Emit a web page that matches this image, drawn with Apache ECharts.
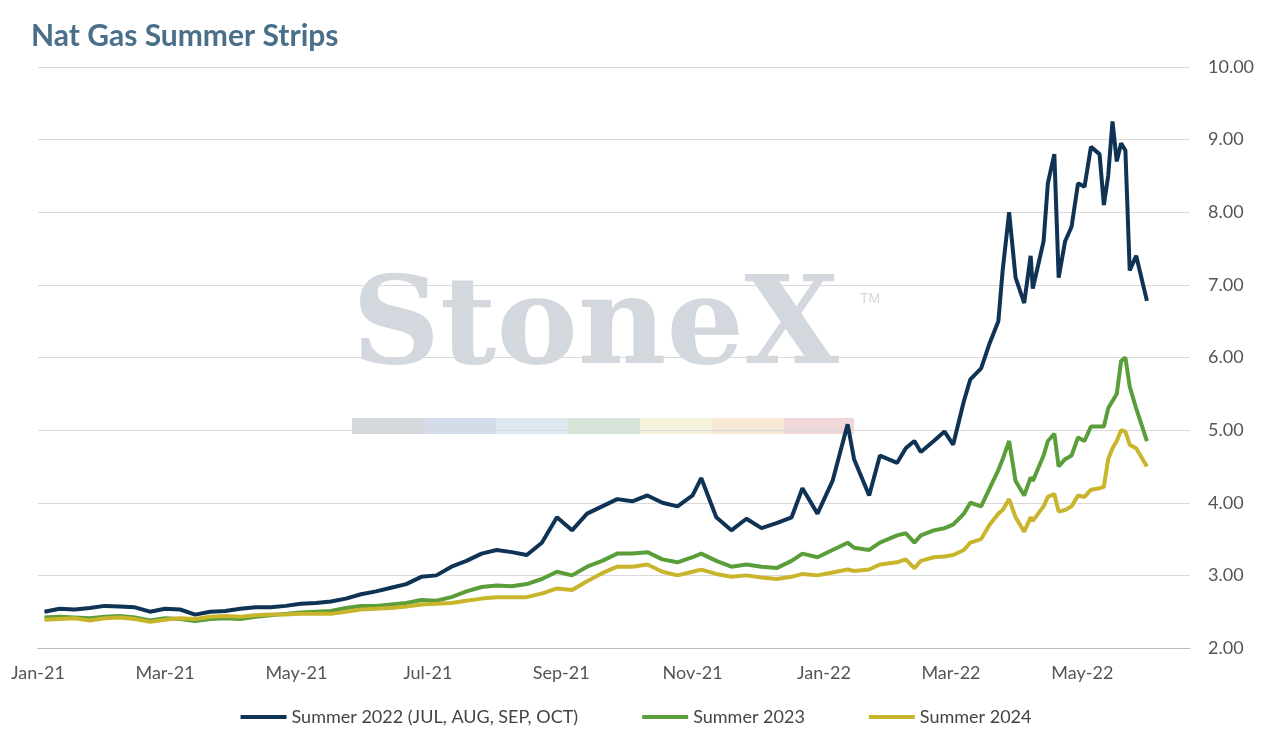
<!DOCTYPE html>
<html>
<head>
<meta charset="utf-8">
<script src="https://cdn.jsdelivr.net/npm/echarts@6/dist/echarts.min.js"></script>
<style>html,body{margin:0;padding:0;background:#fff}#main{width:1272px;height:739px}</style>
</head>
<body>
<div id="main"></div>
<script>
// date, Summer 2022, Summer 2023, Summer 2024
var rows = [
  ['2021-01-04', 2.50, 2.42, 2.39],
  ['2021-01-11', 2.54, 2.43, 2.40],
  ['2021-01-18', 2.53, 2.42, 2.41],
  ['2021-01-25', 2.55, 2.41, 2.38],
  ['2021-02-01', 2.58, 2.43, 2.41],
  ['2021-02-08', 2.57, 2.44, 2.42],
  ['2021-02-15', 2.56, 2.42, 2.40],
  ['2021-02-22', 2.50, 2.38, 2.36],
  ['2021-03-01', 2.54, 2.41, 2.39],
  ['2021-03-08', 2.53, 2.40, 2.41],
  ['2021-03-15', 2.46, 2.37, 2.40],
  ['2021-03-22', 2.50, 2.40, 2.43],
  ['2021-03-29', 2.51, 2.41, 2.44],
  ['2021-04-05', 2.54, 2.40, 2.43],
  ['2021-04-12', 2.56, 2.43, 2.45],
  ['2021-04-19', 2.56, 2.45, 2.46],
  ['2021-04-26', 2.58, 2.47, 2.46],
  ['2021-05-03', 2.61, 2.49, 2.47],
  ['2021-05-10', 2.62, 2.50, 2.47],
  ['2021-05-17', 2.64, 2.51, 2.47],
  ['2021-05-24', 2.68, 2.55, 2.50],
  ['2021-05-31', 2.74, 2.58, 2.53],
  ['2021-06-07', 2.78, 2.58, 2.54],
  ['2021-06-14', 2.83, 2.60, 2.55],
  ['2021-06-21', 2.88, 2.62, 2.57],
  ['2021-06-28', 2.98, 2.66, 2.60],
  ['2021-07-05', 3.00, 2.65, 2.61],
  ['2021-07-12', 3.12, 2.70, 2.62],
  ['2021-07-19', 3.20, 2.78, 2.65],
  ['2021-07-26', 3.30, 2.84, 2.68],
  ['2021-08-02', 3.35, 2.86, 2.70],
  ['2021-08-09', 3.32, 2.85, 2.70],
  ['2021-08-16', 3.28, 2.88, 2.70],
  ['2021-08-23', 3.45, 2.95, 2.75],
  ['2021-08-30', 3.80, 3.05, 2.82],
  ['2021-09-06', 3.62, 3.00, 2.80],
  ['2021-09-13', 3.85, 3.12, 2.92],
  ['2021-09-20', 3.95, 3.20, 3.03],
  ['2021-09-27', 4.05, 3.30, 3.12],
  ['2021-10-04', 4.02, 3.30, 3.12],
  ['2021-10-11', 4.10, 3.32, 3.15],
  ['2021-10-18', 4.00, 3.22, 3.05],
  ['2021-10-25', 3.95, 3.18, 3.00],
  ['2021-11-01', 4.10, 3.25, 3.05],
  ['2021-11-05', 4.34, 3.30, 3.08],
  ['2021-11-12', 3.80, 3.20, 3.02],
  ['2021-11-19', 3.62, 3.12, 2.98],
  ['2021-11-26', 3.78, 3.15, 3.00],
  ['2021-12-03', 3.65, 3.12, 2.97],
  ['2021-12-10', 3.72, 3.10, 2.95],
  ['2021-12-17', 3.80, 3.20, 2.98],
  ['2021-12-22', 4.20, 3.30, 3.02],
  ['2021-12-29', 3.85, 3.25, 3.00],
  ['2022-01-05', 4.30, 3.35, 3.04],
  ['2022-01-12', 5.08, 3.45, 3.08],
  ['2022-01-15', 4.60, 3.38, 3.06],
  ['2022-01-22', 4.10, 3.35, 3.08],
  ['2022-01-27', 4.65, 3.45, 3.15],
  ['2022-02-04', 4.55, 3.55, 3.18],
  ['2022-02-08', 4.75, 3.58, 3.22],
  ['2022-02-12', 4.85, 3.45, 3.10],
  ['2022-02-15', 4.70, 3.55, 3.20],
  ['2022-02-21', 4.85, 3.62, 3.25],
  ['2022-02-26', 4.98, 3.65, 3.26],
  ['2022-03-02', 4.80, 3.70, 3.28],
  ['2022-03-07', 5.40, 3.85, 3.35],
  ['2022-03-10', 5.70, 4.00, 3.45],
  ['2022-03-15', 5.85, 3.95, 3.50],
  ['2022-03-19', 6.20, 4.20, 3.70],
  ['2022-03-23', 6.50, 4.45, 3.85],
  ['2022-03-25', 7.20, 4.60, 3.90],
  ['2022-03-28', 8.00, 4.85, 4.05],
  ['2022-03-31', 7.10, 4.30, 3.80],
  ['2022-04-04', 6.75, 4.10, 3.60],
  ['2022-04-07', 7.40, 4.35, 3.80],
  ['2022-04-08', 6.95, 4.30, 3.75],
  ['2022-04-13', 7.60, 4.65, 3.95],
  ['2022-04-15', 8.40, 4.85, 4.08],
  ['2022-04-18', 8.80, 4.95, 4.12],
  ['2022-04-20', 7.10, 4.50, 3.88],
  ['2022-04-23', 7.60, 4.60, 3.90],
  ['2022-04-26', 7.80, 4.65, 3.95],
  ['2022-04-29', 8.40, 4.90, 4.10],
  ['2022-05-02', 8.35, 4.85, 4.08],
  ['2022-05-05', 8.90, 5.05, 4.18],
  ['2022-05-09', 8.80, 5.05, 4.20],
  ['2022-05-11', 8.10, 5.05, 4.22],
  ['2022-05-13', 8.50, 5.30, 4.60],
  ['2022-05-15', 9.25, 5.40, 4.75],
  ['2022-05-17', 8.70, 5.50, 4.85],
  ['2022-05-19', 8.95, 5.95, 5.00],
  ['2022-05-21', 8.85, 6.00, 4.98],
  ['2022-05-23', 7.20, 5.60, 4.80],
  ['2022-05-26', 7.40, 5.30, 4.75],
  ['2022-05-31', 6.78, 4.85, 4.50]
]

// build one category per day so labels land on month starts
var days = []
var d = new Date(Date.UTC(2021, 0, 1))
var end = new Date(Date.UTC(2022, 5, 20))
while (d <= end) {
    days.push(d.toISOString().slice(0, 10))
    d.setUTCDate(d.getUTCDate() + 1)
}
var mon = ['Jan','Feb','Mar','Apr','May','Jun','Jul','Aug','Sep','Oct','Nov','Dec']

function col(i) {
    var map = {}
    rows.forEach(r => { map[r[0]] = r[i] })
    return days.map(day => map[day] === undefined ? null : map[day])
}

var myChart = echarts.init(document.getElementById('main'))
var font = 'Lato, "Noto Sans", sans-serif'
var option = {
    animation: false,
    textStyle: { fontFamily: font },
    title: {
        text: 'Nat Gas Summer Strips', left: 26, top: 16,
        textStyle: { color: '#4a6f8a', fontSize: 30, fontWeight: 'bold', fontFamily: font }
    },
    graphic: [
        { type: 'text', left: 352, top: 270, z: 0,
          style: { text: 'StoneX', font: 'bold 122px "DejaVu Serif", serif', fill: '#d3d8de' } },
        { type: 'text', left: 860, top: 292, z: 0,
          style: { text: 'TM', font: '14px sans-serif', fill: '#d3d8de' } },
        { type: 'rect', shape: { x: 352, y: 418, width: 72, height: 16 }, style: { fill: '#d5d9de' } },
        { type: 'rect', shape: { x: 424, y: 418, width: 72, height: 16 }, style: { fill: '#d3dce8' } },
        { type: 'rect', shape: { x: 496, y: 418, width: 72, height: 16 }, style: { fill: '#dfe8f0' } },
        { type: 'rect', shape: { x: 568, y: 418, width: 72, height: 16 }, style: { fill: '#d6e3d6' } },
        { type: 'rect', shape: { x: 640, y: 418, width: 72, height: 16 }, style: { fill: '#f6f2dc' } },
        { type: 'rect', shape: { x: 712, y: 418, width: 72, height: 16 }, style: { fill: '#f6e8d4' } },
        { type: 'rect', shape: { x: 784, y: 418, width: 70, height: 16 }, style: { fill: '#f1d8d8' } }
    ],
    legend: {
        bottom: 8, itemWidth: 46, itemHeight: 4, itemGap: 64, icon: 'rect',
        textStyle: { color: '#444', fontSize: 18, fontFamily: font },
        data: ['Summer 2022 (JUL, AUG, SEP, OCT)', 'Summer 2023', 'Summer 2024']
    },
    grid: { left: 38, right: 82, top: 67, bottom: 91 },
    xAxis: {
        type: 'category', data: days, boundaryGap: false,
        axisLine: { lineStyle: { color: '#bbb' } },
        axisTick: { show: false },
        axisLabel: {
            color: '#555', fontSize: 18, margin: 16,
            interval: (i, v) => v.slice(8) === '01' && (+v.slice(5, 7)) % 2 === 1,
            formatter: v => mon[+v.slice(5, 7) - 1] + '-' + v.slice(2, 4)
        }
    },
    yAxis: {
        type: 'value', position: 'right', min: 2, max: 10, interval: 1,
        axisLabel: { color: '#555', fontSize: 18, margin: 18, formatter: v => v.toFixed(2) },
        splitLine: { lineStyle: { color: '#d9d9d9' } }
    },
    series: [
        { name: 'Summer 2022 (JUL, AUG, SEP, OCT)', type: 'line', data: col(1), connectNulls: true,
          showSymbol: false, lineStyle: { width: 4, color: '#0e3354' }, itemStyle: { color: '#0e3354' } },
        { name: 'Summer 2023', type: 'line', data: col(2), connectNulls: true,
          showSymbol: false, lineStyle: { width: 4, color: '#5a9e3a' }, itemStyle: { color: '#5a9e3a' } },
        { name: 'Summer 2024', type: 'line', data: col(3), connectNulls: true,
          showSymbol: false, lineStyle: { width: 4, color: '#c9b52c' }, itemStyle: { color: '#c9b52c' } }
    ]
}
myChart.setOption(option)
</script>
</body>
</html>
